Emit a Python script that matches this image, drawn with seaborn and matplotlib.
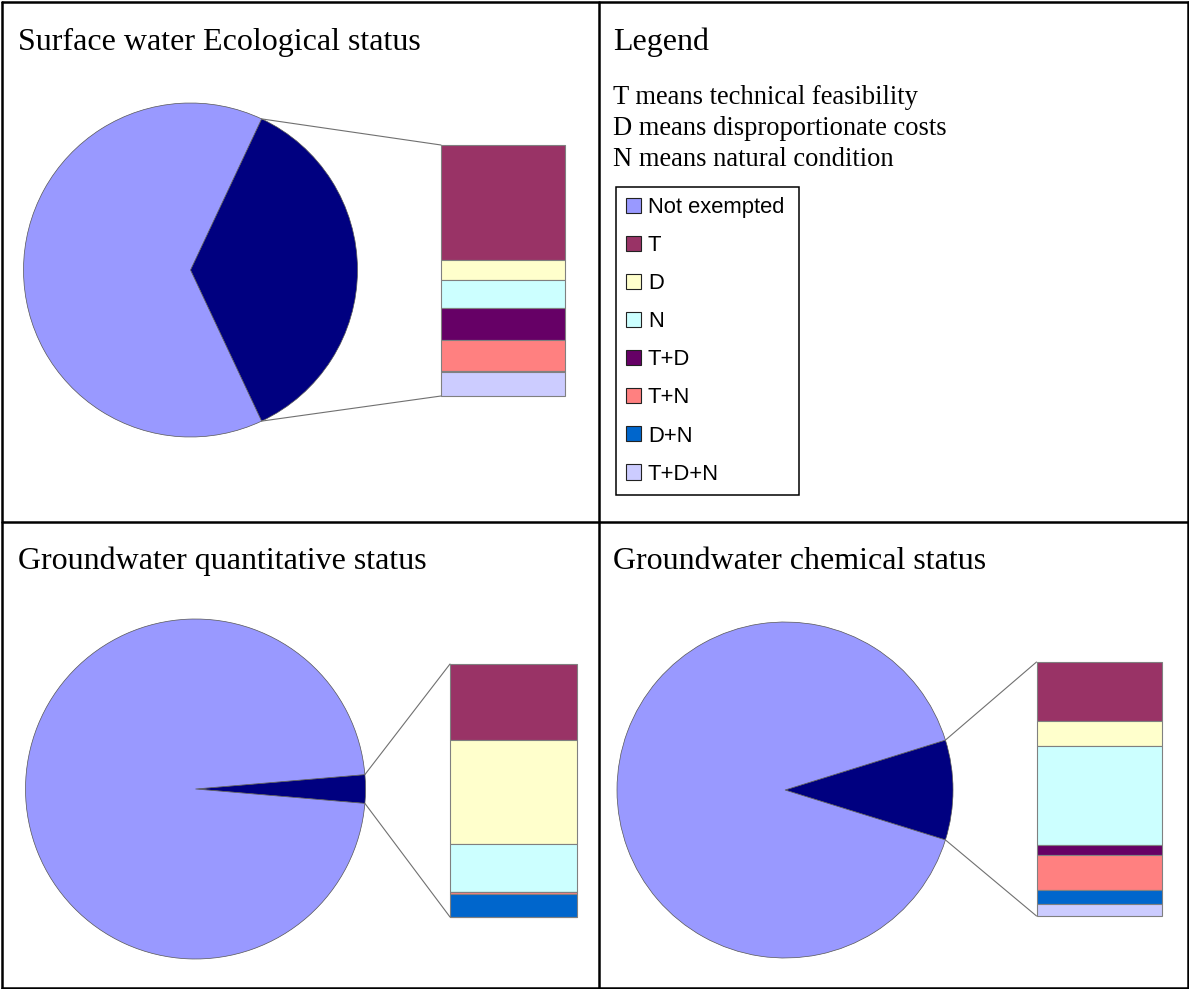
import numpy as np
import pandas as pd
import seaborn as sns
import matplotlib
matplotlib.use('Agg')
import matplotlib.pyplot as plt
from matplotlib.patches import ConnectionPatch, Patch
from matplotlib.lines import Line2D

sns.set_theme(style='white')
plt.rcParams['font.family'] = ['Liberation Serif', 'DejaVu Serif']
plt.rcParams['text.color'] = 'black'

# categories of the exemptions (bar of pie, top to bottom)
categories = ['T', 'D', 'N', 'T+D', 'T+N', 'D+N', 'T+D+N']
colors = ['#993366', '#FFFFCC', '#CCFFFF', '#660066', '#FF8080', '#0066CC', '#CCCCFF']
pie_colors = ['#000080', '#9999FF']   # exempted, not exempted

# share of exempted water bodies (pie wedge)
exempt_surface = 0.36
exempt_gw_quant = 0.027
exempt_gw_chem = 0.096

# breakdown of the exempted part, in %
surface_eco = [46.0, 7.6, 11.5, 12.4, 12.6, 0.5, 9.4]
gw_quant = [30.0, 41.2, 19.1, 0.0, 0.8, 8.9, 0.0]
gw_chem = [23.4, 9.6, 39.0, 3.8, 13.8, 5.5, 4.9]

titles = ['Surface water Ecological status', 'Groundwater quantitative status',
          'Groundwater chemical status']
notes = ['T means technical feasibility', 'D means disproportionate costs',
         'N means natural condition']

W, H = 1189, 989
fig = plt.figure(figsize=(W / 100, H / 100), dpi=100)


def px_axes(left, top, w, h):
    return fig.add_axes([left / W, 1 - (top + h) / H, w / W, h / H])


def bar_of_pie(pie_box, bar_box, exempt, shares):
    ax_p = px_axes(*pie_box)
    ax_b = px_axes(*bar_box)
    half = exempt * 180
    ax_p.pie([exempt, 1 - exempt], colors=pie_colors, startangle=-half,
             counterclock=True, radius=1,
             wedgeprops=dict(edgecolor='#555555', linewidth=0.5))
    ax_p.set_xlim(-1, 1)
    ax_p.set_ylim(-1, 1)
    ax_p.set_aspect('auto')
    ax_p.axis('off')

    df = pd.DataFrame({'cat': categories, 'share': shares, 'color': colors})
    bottom = 100 - df['share'].cumsum()
    ax_b.bar(np.zeros(len(df)), df['share'], bottom=bottom, width=1,
             color=df['color'], edgecolor='#808080', linewidth=0.8, clip_on=False)
    ax_b.set_xlim(-0.5, 0.5)
    ax_b.set_ylim(0, 100)
    ax_b.axis('off')

    a = np.deg2rad(half)
    for sign, yb in [(1, 100), (-1, 0)]:
        con = ConnectionPatch(xyA=(np.cos(a), sign * np.sin(a)), coordsA=ax_p.transData,
                              xyB=(-0.5, yb), coordsB=ax_b.transData,
                              color='#707070', linewidth=0.8)
        fig.add_artist(con)


bar_of_pie((23.5, 103, 334, 334), (441, 145, 124, 251), exempt_surface, surface_eco)
bar_of_pie((25.5, 619, 340, 340), (450, 664, 126.5, 253), exempt_gw_quant, gw_quant)
bar_of_pie((617, 622, 336, 336), (1036.5, 662, 125, 254), exempt_gw_chem, gw_chem)

# titles
tsize = 23.0
fig.text(18 / W, 1 - 50 / H, titles[0], fontsize=tsize, va='baseline')
fig.text(613 / W, 1 - 50 / H, 'Legend', fontsize=tsize, va='baseline')
fig.text(18 / W, 1 - 569 / H, titles[1], fontsize=tsize, va='baseline')
fig.text(613 / W, 1 - 569 / H, titles[2], fontsize=tsize, va='baseline')
for i, s in enumerate(notes):
    fig.text(613 / W, 1 - (104 + 31 * i) / H, s, fontsize=19.1, va='baseline')

# legend box
handles = [Patch(facecolor=pie_colors[1], edgecolor='#222222', linewidth=0.8)]
handles += [Patch(facecolor=c, edgecolor='#222222', linewidth=0.8) for c in colors]
labels = ['Not exempted'] + categories
leg = fig.legend(handles, labels, loc='upper left',
                 bbox_to_anchor=(616 / W, 1 - 187 / H, 183 / W, 0),
                 mode='expand', borderaxespad=0, fancybox=False,
                 prop={'family': 'Liberation Sans', 'size': 15.8},
                 handlelength=0.68, handleheight=0.68, handletextpad=0.32,
                 labelspacing=0.78, borderpad=0.45, framealpha=1)
leg.get_frame().set_edgecolor('black')
leg.get_frame().set_linewidth(1.1)
for t in leg.get_texts():
    t.set_color('black')

# table grid
kw = dict(color='black', linewidth=1.8, transform=fig.transFigure)
for xs, ys in [([2, 1188], [2, 2]), ([2, 1188], [988, 988]), ([2, 2], [2, 988]),
               ([1188, 1188], [2, 988]), ([599, 599], [2, 988]), ([2, 1188], [522, 522])]:
    fig.add_artist(Line2D([x / W for x in xs], [1 - y / H for y in ys], **kw))

fig.savefig('out.png', dpi=100)
